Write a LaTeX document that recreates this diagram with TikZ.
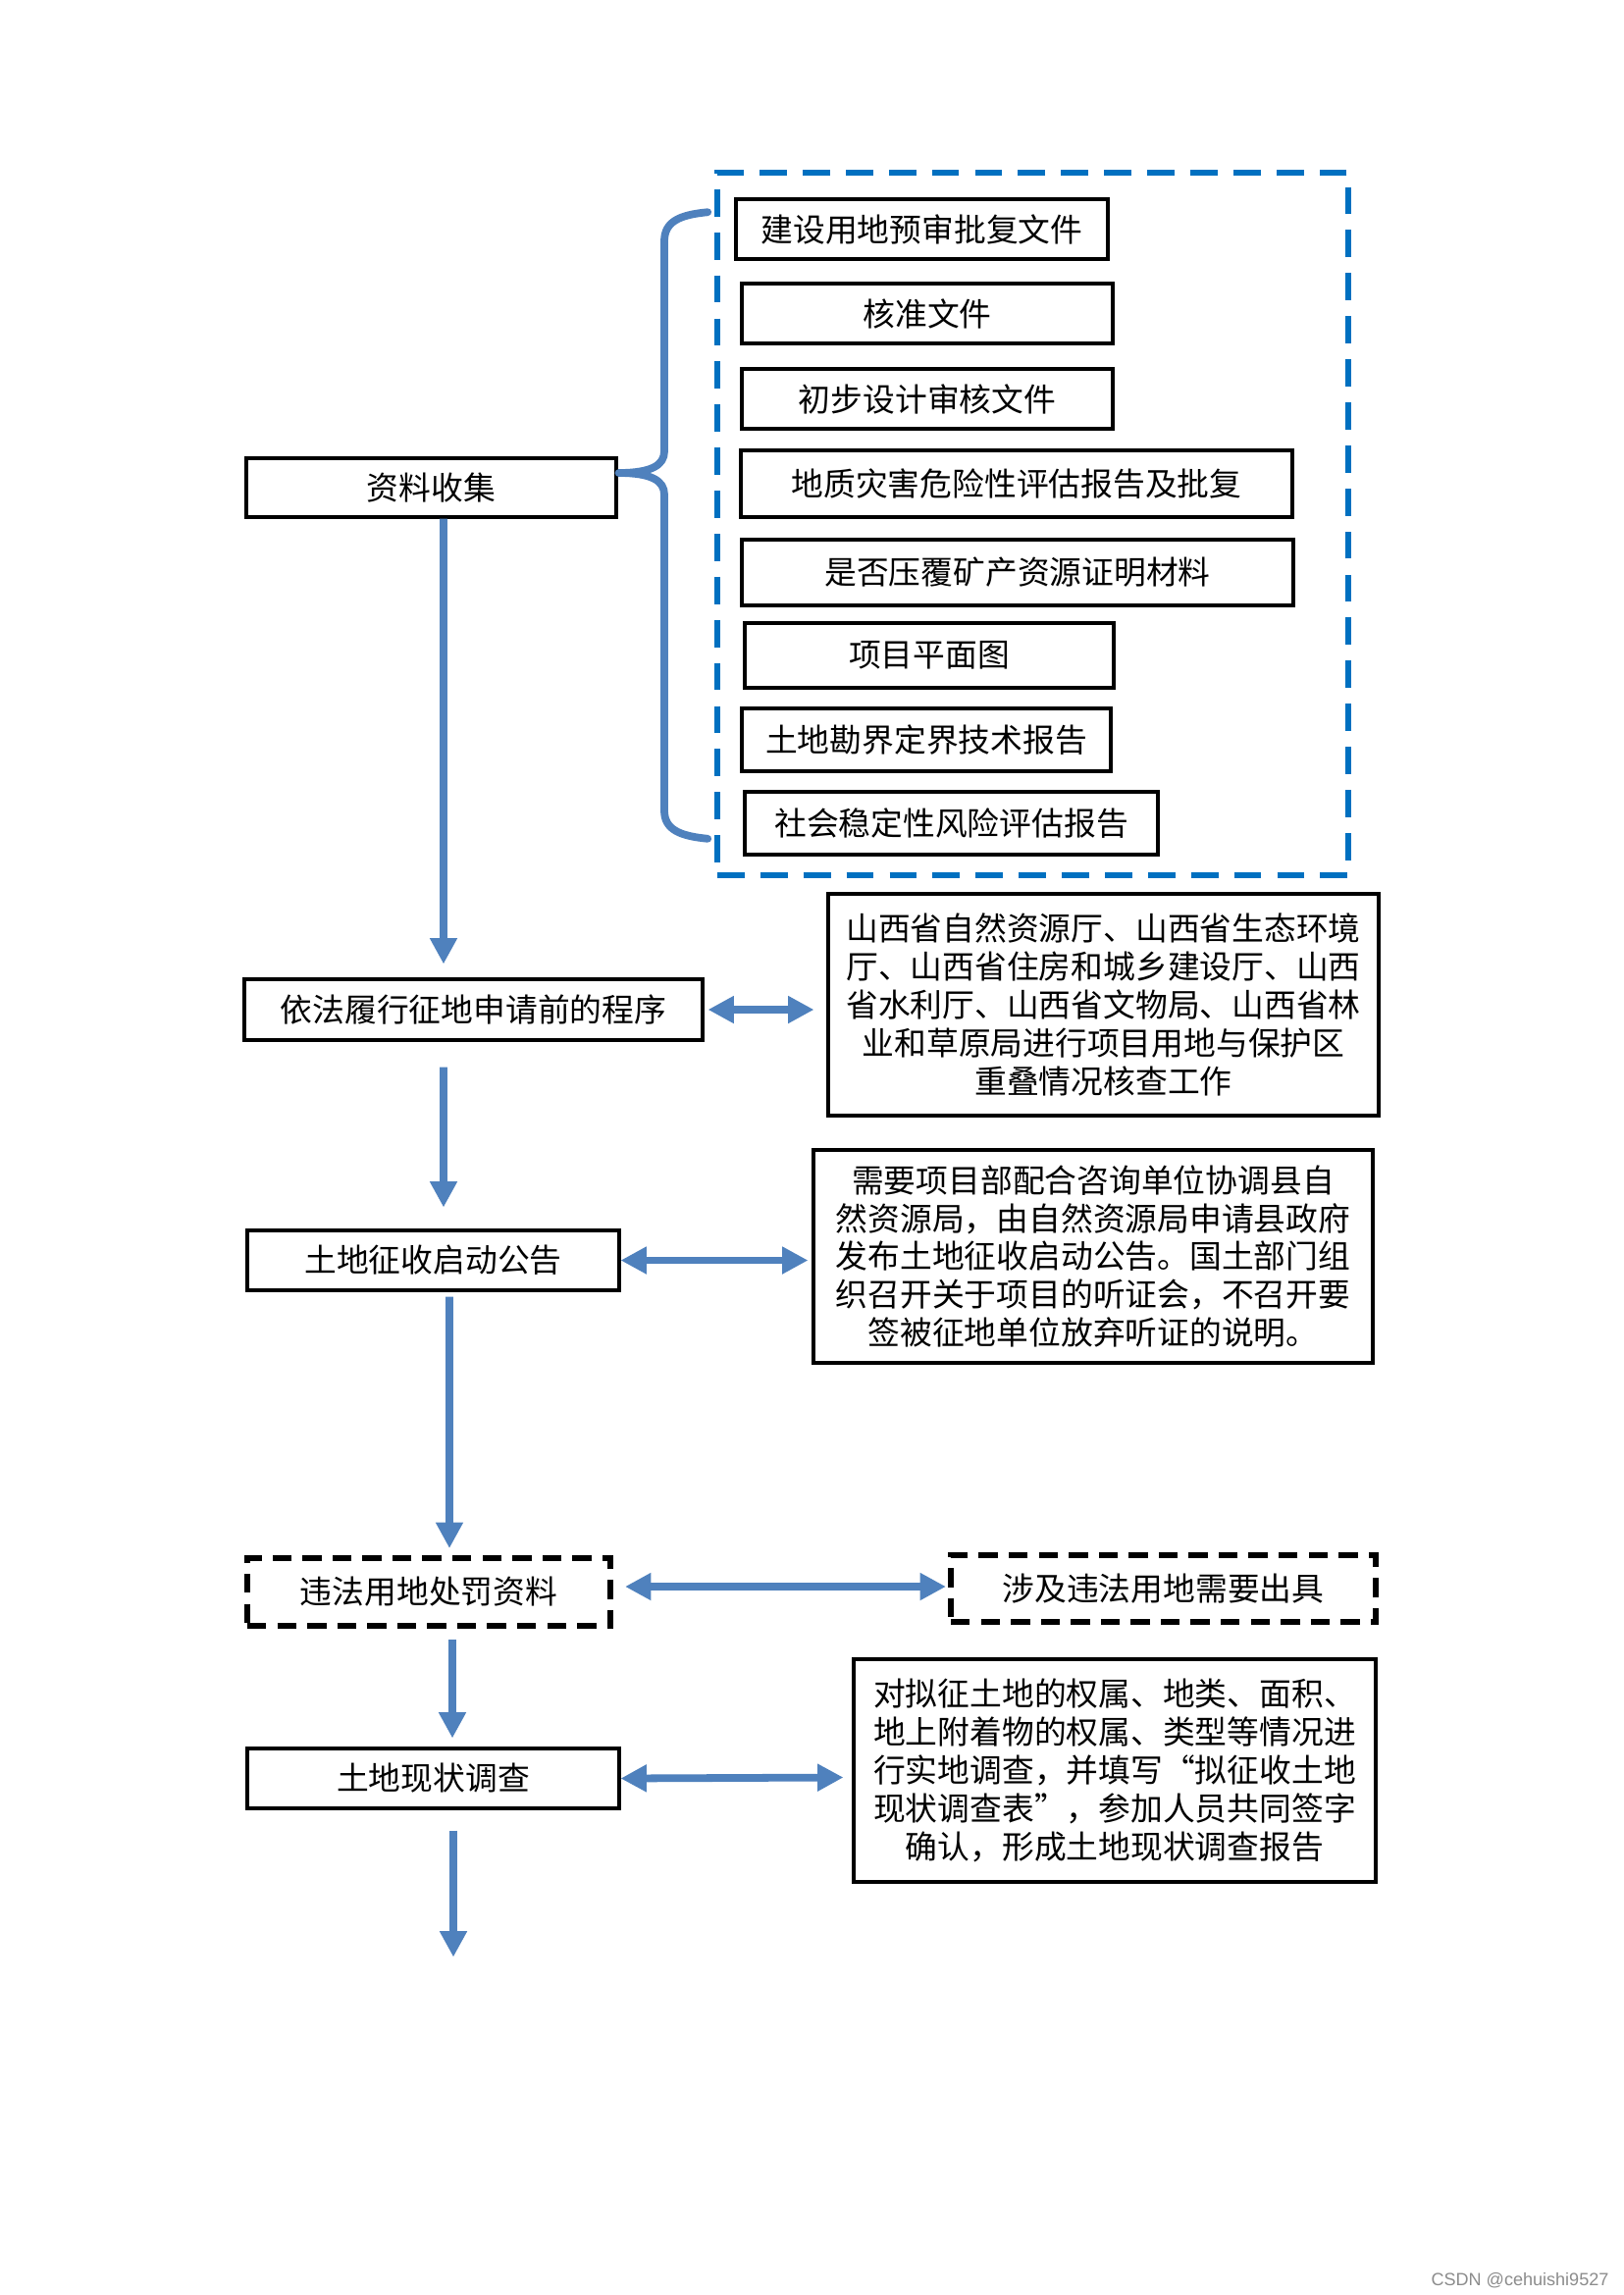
\documentclass[tikz,border=0pt]{standalone}
\usepackage{fontspec}
\setmainfont{Liberation Sans}
\newfontfamily\cjk{Noto Sans CJK SC}
\newfontfamily\wmfont{Liberation Sans}
\usetikzlibrary{arrows.meta,calc}
\definecolor{flowblue}{HTML}{4F81BD}
\definecolor{grpblue}{HTML}{0070C0}
\begin{document}
\begin{tikzpicture}[x=0.36pt,y=-0.36pt,
  font=\cjk\fontsize{11.8pt}{14pt}\selectfont,
  sz/.style 2 args={minimum width=#1*0.36pt, minimum height=#2*0.36pt},
  box/.style={draw=black, line width=1.1pt, inner sep=0pt, align=center},
  dbox/.style={draw=black, line width=2.2pt, dash pattern=on 7pt off 4pt, inner sep=0pt, align=center},
  grp/.style={draw=grpblue, line width=2pt, dash pattern=on 10pt off 5.8pt, inner sep=0pt},
  flow/.style={draw=flowblue, line width=2.8pt, -{Triangle[length=9.5pt,width=9.5pt]}},
  dflow/.style={draw=flowblue, line width=2.8pt, {Triangle[length=9.5pt,width=9.5pt]}-{Triangle[length=9.5pt,width=9.5pt]}},
  bracestyle/.style={draw=flowblue, line width=2.8pt, line join=round, line cap=round}
]
\fill[white] (0,0) rectangle (1654,2339);
\useasboundingbox (0,0) rectangle (1654,2339);

% group of documents
\node[grp, sz={643}{716}] (grp) at (1052.5,534) {};
\node[box, sz={379}{61}] (d1) at (939.5,233.5) {建设用地预审批复文件};
\node[box, sz={378}{61}] (d2) at (945,319.5) {核准文件};
\node[box, sz={378}{61}] (d3) at (945,406.5) {初步设计审核文件};
\node[box, sz={562}{68}] (d4) at (1036,493) {地质灾害危险性评估报告及批复};
\node[box, sz={562}{67}] (d5) at (1037,583.5) {是否压覆矿产资源证明材料};
\node[box, sz={376}{66}] (d6) at (947,668) {项目平面图};
\node[box, sz={376}{64}] (d7) at (944,754) {土地勘界定界技术报告};
\node[box, sz={421}{64}] (d8) at (969.5,839) {社会稳定性风险评估报告};

% main flow
\node[box, sz={377}{60}] (collect) at (439.5,497) {资料收集};
\node[box, sz={467}{62}] (proc) at (482.5,1029) {依法履行征地申请前的程序};
\node[box, sz={379}{61}] (notice) at (441.5,1284.5) {土地征收启动公告};
\node[dbox, sz={370}{69}] (illegal) at (437,1622.5) {违法用地处罚资料};
\node[box, sz={379}{61}] (survey) at (441.5,1812.5) {土地现状调查};

% right side notes
\node[box, sz={561}{226}] (r1) at (1124.5,1024) {山西省自然资源厅、山西省生态环境\\厅、山西省住房和城乡建设厅、山西\\省水利厅、山西省文物局、山西省林\\业和草原局进行项目用地与保护区\\重叠情况核查工作};
\node[box, sz={570}{217}] (r2) at (1114,1280.5) {需要项目部配合咨询单位协调县自\\然资源局，由自然资源局申请县政府\\发布土地征收启动公告。国土部门组\\织召开关于项目的听证会，不召开要\\签被征地单位放弃听证的说明。};
\node[dbox, sz={433}{68}] (r3) at (1185.5,1619) {涉及违法用地需要出具};
\node[box, sz={532}{227}] (r4) at (1136,1804.5) {对拟征土地的权属、地类、面积、\\地上附着物的权属、类型等情况进\\行实地调查，并填写“拟征收土地\\现状调查表”，参加人员共同签字\\确认，形成土地现状调查报告};

% brace
\coordinate (bt) at ($(grp.north west)+(-7,43)$);
\coordinate (bb) at ($(grp.south west)+(-7,-40)$);
\coordinate (tip) at ($(collect.east)+(1,-15)$);
\draw[bracestyle] (bt) .. controls (692,219) and (677,226) .. (677,246) -- (677,460)
  .. controls (677,474) and (664,482) .. (tip)
  .. controls (664,482) and (677,490) .. (677,504) -- (677,826)
  .. controls (677,845) and (692,852) .. (bb);

% vertical arrows
\draw[flow] ($(collect.south)+(12.5,0)$) -- ($(proc.north)+(-30.5,-14)$);
\draw[flow] ($(proc.south)+(-30.5,26)$) -- ($(notice.north)+(10.5,-22)$);
\draw[flow] ($(notice.south)+(16.5,5)$) -- ($(illegal.north)+(21,-7)$);
\draw[flow] ($(illegal.south)+(24,11)$) -- ($(survey.north)+(19.5,-9)$);
\coordinate (endpt) at ($(survey.south)+(20.5,150)$);
\draw[flow] ($(survey.south)+(20.5,21)$) -- (endpt);

% horizontal double arrows
\draw[dflow] ($(proc.east)+(4,0)$) -- ($(r1.west)+(-13,5)$);
\draw[dflow] (notice.east) -- ($(r2.west)+(-4,4)$);
\draw[dflow] ($(illegal.east)+(12,-5.5)$) -- ($(r3.west)+(-2,-2)$);
\draw[dflow] (survey.east) -- ($(r4.west)+(-9,7)$);

% watermark
\node[font=\wmfont\fontsize{6.5pt}{8pt}\selectfont, text=black!45, anchor=east, inner sep=0pt] (wm) at (1640,2324) {CSDN @cehuishi9527};
\end{tikzpicture}
\end{document}
